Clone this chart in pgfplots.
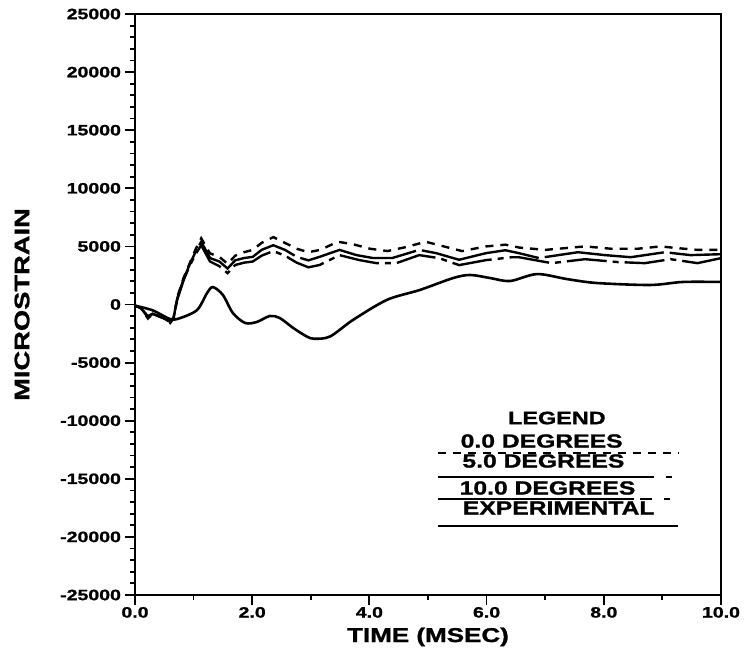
\documentclass[border=0pt]{standalone}
\usepackage{fontspec}
\setmainfont{Liberation Sans}[FakeStretch=1.3, BoldFeatures={FakeBold=1.2}]
\usepackage{pgfplots}
\pgfplotsset{compat=1.18}
\begin{document}
\begin{tikzpicture}
\path[use as bounding box] (-67.5pt,-33pt) rectangle (305.5pt,297.5pt);
\begin{axis}[
  scale only axis, width=293pt, height=290.5pt,
  xmin=0, xmax=10, ymin=-25000, ymax=25000,
  xtick={0,2,4,6,8,10}, ytick={-25000,-20000,...,25000},
  scaled y ticks=false, scaled x ticks=false,
  minor x tick num=1, minor y tick num=4,
  tick pos=left, tick align=outside,
  major tick length=5pt, minor tick length=2.5pt,
  every tick/.style={black, line width=0.9pt},
  axis line style={line width=1.2pt},
  /pgf/number format/assume math mode=true,
  xticklabel style={font=\fontsize{7.5}{8}\selectfont\bfseries, yshift=2.5pt, /pgf/number format/fixed, /pgf/number format/fixed zerofill, /pgf/number format/precision=1},
  yticklabel style={font=\fontsize{7.5}{8}\selectfont\bfseries, xshift=1.5pt, /pgf/number format/1000 sep={}},
  xlabel={TIME (MSEC)}, ylabel={MICROSTRAIN},
  xlabel style={font=\fontsize{10}{11}\selectfont\bfseries, at={(axis description cs:0.5,-0.072)}, anchor=center},
  ylabel style={font=\fontsize{10.5}{11}\selectfont\bfseries, at={(axis description cs:-0.1928,0.5)}, anchor=center},
  clip=true,
]
% 0.0 degrees
\addplot[black, line width=1.2pt, dash pattern=on 4pt off 3.5pt] coordinates {
(0,-100)(0.1,-300)(0.22,-1200)(0.3,-800)(0.4,-1000)(0.5,-1200)(0.6,-1600)(0.66,-1200)(0.72,600)(0.83,2300)(0.93,3500)(1.03,4700)(1.13,5700)(1.28,4400)(1.44,4100)(1.58,3500)(1.71,4200)(1.86,4500)(2.01,4700)(2.16,5300)(2.36,5800)(2.56,5300)(2.76,4800)(2.96,4500)(3.16,4700)(3.46,5400)(3.71,5200)(4.01,4800)(4.31,4600)(4.63,4950)(4.96,5400)(5.31,4950)(5.58,4600)(5.99,5000)(6.32,5150)(6.56,4900)(7.0,4700)(7.45,4900)(7.68,5000)(8.12,4800)(8.58,4800)(8.97,5000)(9.26,4850)(9.6,4700)(10,4700)};
% 5.0 degrees
\addplot[black, line width=1.2pt, dash pattern=on 60pt off 3pt] coordinates {
(0,-100)(0.1,-300)(0.22,-1100)(0.3,-800)(0.4,-1000)(0.5,-1200)(0.6,-1500)(0.66,-1100)(0.72,500)(0.83,2200)(0.93,3400)(1.03,4500)(1.13,5400)(1.28,4000)(1.44,3700)(1.58,3100)(1.71,3800)(1.86,4000)(2.01,4100)(2.16,4700)(2.36,5100)(2.56,4700)(2.76,4100)(2.96,3800)(3.15,4100)(3.49,4700)(3.78,4250)(4.06,4000)(4.39,4000)(4.85,4700)(5.14,4420)(5.53,3850)(5.99,4420)(6.32,4670)(6.55,4420)(6.89,4000)(7.56,4500)(8.02,4250)(8.46,4070)(9.04,4500)(9.48,4250)(10,4330)};
% 10.0 degrees
\addplot[black, line width=1.2pt, dash pattern=on 20pt off 3pt on 3pt off 3pt] coordinates {
(0,-100)(0.1,-300)(0.22,-1000)(0.3,-800)(0.4,-1000)(0.5,-1200)(0.6,-1500)(0.66,-1100)(0.72,400)(0.83,2100)(0.93,3300)(1.03,4300)(1.13,5100)(1.28,3700)(1.44,3300)(1.58,2700)(1.71,3400)(1.86,3600)(2.01,3700)(2.16,4200)(2.36,4600)(2.56,4200)(2.76,3600)(2.96,3200)(3.15,3400)(3.49,4250)(3.83,3820)(4.12,3560)(4.46,3560)(4.85,4250)(5.19,3990)(5.53,3390)(5.99,3820)(6.43,4070)(6.55,4070)(7.11,3560)(7.68,3900)(8.24,3650)(8.7,3560)(9.14,3900)(9.6,3560)(10,3990)};
% experimental
\addplot[black, line width=1.3pt, smooth] coordinates {
(0,-100)(0.3,-500)(0.6,-1250)(0.77,-1170)(1.06,-470)(1.23,990)(1.33,1500)(1.5,820)(1.67,-730)(1.88,-1590)(2.08,-1500)(2.3,-990)(2.47,-1160)(2.7,-2020)(2.93,-2750)(3.06,-2950)(3.33,-2750)(3.72,-1330)(4.3,400)(4.86,1250)(5.43,2280)(5.72,2540)(6.06,2280)(6.4,2020)(6.86,2620)(7.37,2190)(7.88,1850)(8.79,1680)(9.35,1940)(10,1940)};
% legend
\node[font=\fontsize{9}{10}\selectfont\bfseries] at (axis cs:7.20,-9770) {LEGEND};
\node[font=\fontsize{9.5}{10}\selectfont\bfseries] at (axis cs:6.94,-11750) {0.0 DEGREES};
\draw[black, line width=1.2pt, dash pattern=on 4pt off 3.5pt] (axis cs:5.17,-12780) -- (axis cs:9.27,-12780);
\node[font=\fontsize{9.5}{10}\selectfont\bfseries] at (axis cs:6.97,-13470) {5.0 DEGREES};
\draw[black, line width=1.2pt, dash pattern=on 108pt off 6pt on 3pt off 6pt] (axis cs:5.17,-14850) -- (axis cs:9.27,-14850);
\node[font=\fontsize{9.5}{10}\selectfont\bfseries] at (axis cs:7.04,-15790) {10.0 DEGREES};
\draw[black, line width=1.2pt, dash pattern=on 98pt off 3pt on 6pt off 6pt on 3pt off 6pt] (axis cs:5.17,-16740) -- (axis cs:9.27,-16740);
\node[font=\fontsize{9.5}{10}\selectfont\bfseries] at (axis cs:7.23,-17510) {EXPERIMENTAL};
\draw[black, line width=1.3pt] (axis cs:5.17,-19060) -- (axis cs:9.27,-19060);
\end{axis}
\end{tikzpicture}
\end{document}
